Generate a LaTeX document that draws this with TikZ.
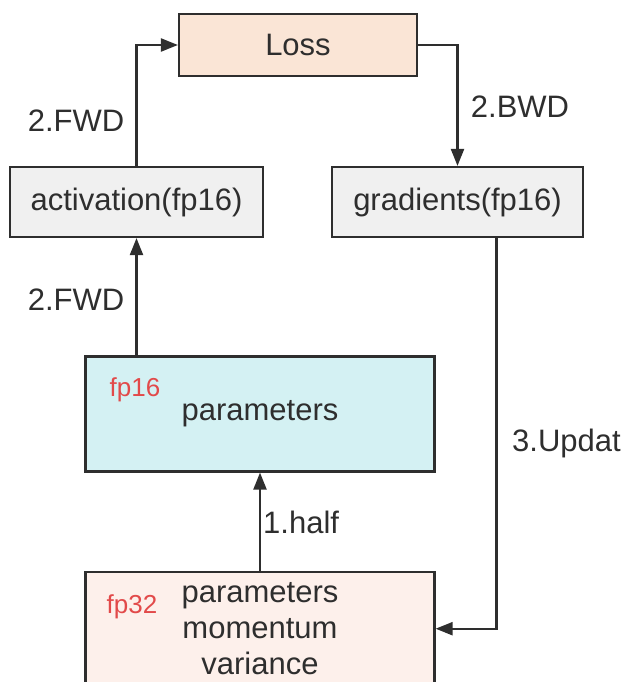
\documentclass[tikz,border=0pt]{standalone}
\usepackage{fontspec}
\setmainfont{Liberation Sans}
\usepackage{tikz}
\usetikzlibrary{arrows.meta, positioning}
\usepackage{xcolor}

\definecolor{lossfill}{HTML}{FAE5D6}
\definecolor{actfill}{HTML}{F0F0F0}
\definecolor{halffill}{HTML}{D4F1F3}
\definecolor{fullfill}{HTML}{FDF0EB}
\definecolor{edge}{HTML}{2E2E2E}
\definecolor{precred}{HTML}{E24A4A}

\begin{document}
\begin{tikzpicture}[
        x=1pt, y=-1pt,
        node distance=98pt and 60pt,
        box/.style={
            rectangle,
            draw=edge,
            line width=2.2pt,
            text=edge,
            align=center,
            font=\fontsize{31}{36}\selectfont,
            inner sep=0pt
        },
        lbl/.style={
            text=edge,
            font=\fontsize{31}{36}\selectfont,
            inner sep=0pt
        },
        prec/.style={
            text=precred,
            font=\fontsize{26}{30}\selectfont,
            inner sep=0pt
        },
        arrow/.style={
            -{Triangle[length=17pt, width=13pt]},
            line width=2.2pt,
            draw=edge
        }
    ]
        \useasboundingbox (0,0) rectangle (625,682);

        \node (loss) [box, fill=lossfill, minimum width=238pt, minimum height=62pt] at (298,45) {Loss};
        \node (act) [box, fill=actfill, minimum width=253pt, minimum height=70pt] at (136.5,202) {activation(fp16)};
        \node (grad) [box, fill=actfill, minimum width=251pt, minimum height=70pt] at (457.5,202) {gradients(fp16)};
        \node (p16) [box, fill=halffill, minimum width=349pt, minimum height=115pt] at (260,414) {parameters};
        \node (p32) [box, fill=fullfill, minimum width=349pt, minimum height=114pt, anchor=north, below=of p16.south] {parameters\\momentum\\variance};

        \node (tag16) [prec] at (135,390) {fp16};
        \node (tag32) [prec] at (132,607) {fp32};

        \node (fwdtop) [lbl] at (76,121) {2.FWD};
        \node (bwd) [lbl] at (520,107) {2.BWD};
        \node (fwdlow) [lbl] at (76,300) {2.FWD};
        \node (half) [lbl, anchor=west] at (263,522) {1.half};
        \node (upd) [lbl, anchor=west] at (512,443) {3.Updat};

        \draw [arrow] (act.north) |- (loss.west);
        \draw [arrow] (loss.east) -| (grad.north);
        \draw [arrow] (act.south |- p16.north) -- (act.south);
        \draw [arrow] (p32.north) -- (p16.south);
        \draw [arrow] ([xshift=39pt]grad.south) |- (p32.east);
    \end{tikzpicture}
\end{document}
